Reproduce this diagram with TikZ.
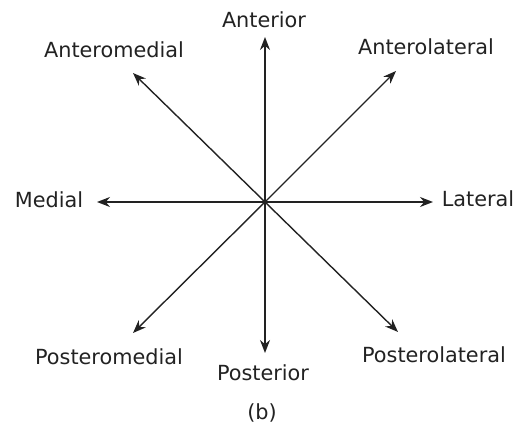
\documentclass[tikz,border=0pt]{standalone}
\usepackage{fontspec}
\setmainfont{DejaVu Sans}
\usetikzlibrary{arrows.meta}
\definecolor{dirline}{HTML}{222222}
\tikzset{
  dirlab/.style={font=\fontsize{20.8}{24}\selectfont,text=dirline,inner sep=0pt},
  dir/.style={-{Stealth[length=13pt,width=10pt]},line width=1.4pt,dirline},
}
\begin{document}
\begin{tikzpicture}[x=1pt,y=-1pt]
  \useasboundingbox (0,0) rectangle (520,444);
  \coordinate (o) at (265,202);
  % labels
  \node[dirlab] (ant) at (264,20) {Anterior};
  \node[dirlab] (antmed) at (114,50) {Anteromedial};
  \node[dirlab] (antlat) at (426,47) {Anterolateral};
  \node[dirlab] (med) at (49,200) {Medial};
  \node[dirlab] (lat) at (478,199) {Lateral};
  \node[dirlab] (postmed) at (109,357) {Posteromedial};
  \node[dirlab] (post) at (263,373) {Posterior};
  \node[dirlab] (postlat) at (434,355) {Posterolateral};
  \node[dirlab] (cap) at (262,413) {(b)};
  % arrow tips
  \coordinate (tA) at (265,37);
  \coordinate (tP) at (265,353);
  \coordinate (tM) at (97,202);
  \coordinate (tL) at (433,202);
  \coordinate (tAM) at (133,73);
  \coordinate (tAL) at (396,71);
  \coordinate (tPM) at (133,333);
  \coordinate (tPL) at (398,332);
  \draw[dir] (o) -- (tA);
  \draw[dir] (o) -- (tP);
  \draw[dir] (o) -- (tM);
  \draw[dir] (o) -- (tL);
  \draw[dir] (o) -- (tAM);
  \draw[dir] (o) -- (tAL);
  \draw[dir] (o) -- (tPM);
  \draw[dir] (o) -- (tPL);
\end{tikzpicture}
\end{document}
